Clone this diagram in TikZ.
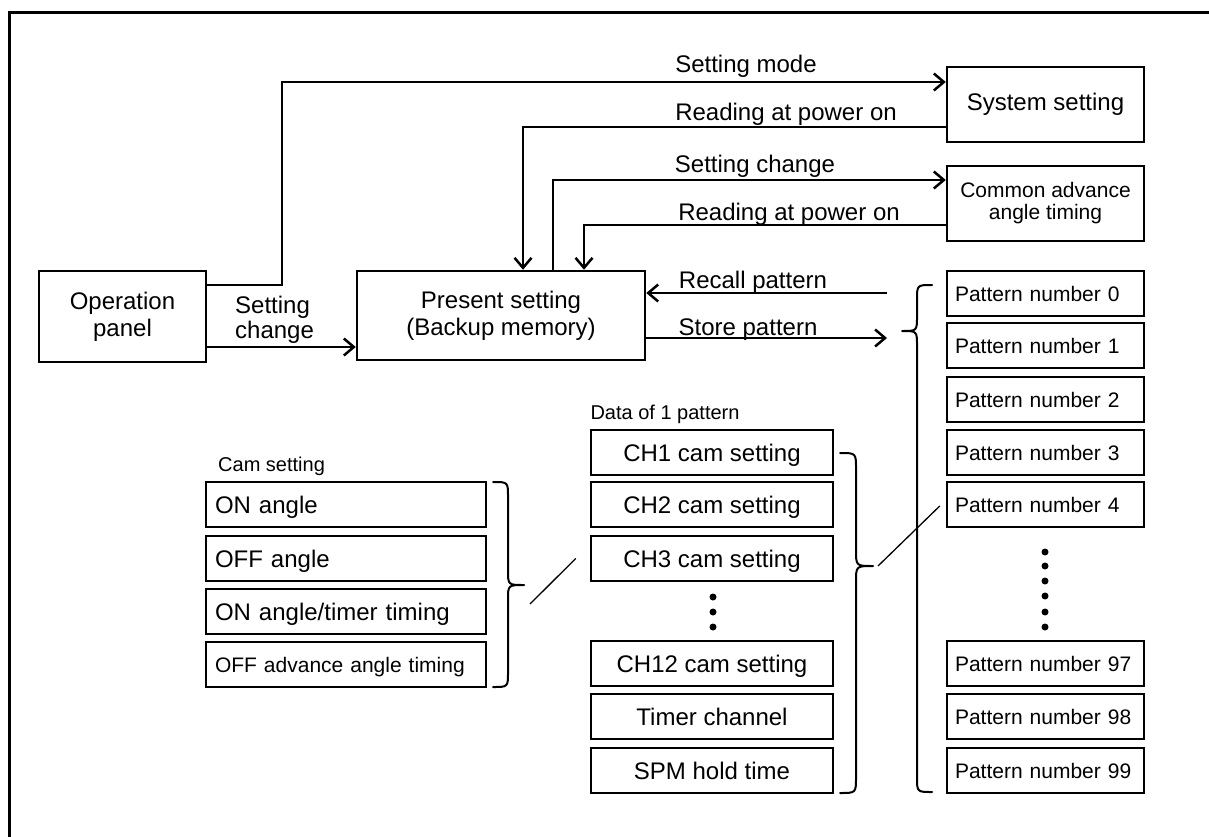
\documentclass[tikz,border=0pt]{standalone}
\usepackage{fontspec}
\setmainfont{Liberation Sans}
\usetikzlibrary{arrows.meta}
\begin{document}
\begin{tikzpicture}[x=1pt,y=-1pt,
  box/.style={draw,line width=2.5pt,inner sep=0pt,align=center},
  big/.style={font=\fontsize{24}{27}\selectfont},
  lbl/.style={inner sep=0pt,anchor=base,font=\fontsize{24}{27}\selectfont},
  arr/.style={line width=2.5pt,-{Straight Barb[length=10pt,width=17pt]}},
  pat/.style={box,minimum width=197pt,minimum height=45pt,text width=181pt,inner xsep=8pt,align=left,font=\fontsize{21}{24}\selectfont,text height=15pt,text depth=0pt},
  chb/.style={box,minimum width=242pt,minimum height=45pt,font=\fontsize{24}{27}\selectfont,text height=17pt,text depth=0pt},
  camb/.style={box,minimum width=280pt,minimum height=45pt,text width=262pt,inner xsep=9pt,align=left,font=\fontsize{24}{27}\selectfont,text height=17pt,text depth=0pt},
  brace/.style={line width=2pt,line cap=round,line join=round},
  thin/.style={line width=1.3pt},
  dot/.style={fill=black}
]
\useasboundingbox (0,0) rectangle (1209,837);
% frame
\draw[line width=3pt] (1209,13) -- (9,13) -- (9,837);

% main boxes
\node[box,big,minimum width=167pt,minimum height=91pt] (op) at (122.5,316.5) {Operation\\panel};
\node[box,big,minimum width=288pt,minimum height=89pt] (pres) at (501,315.5) {Present setting\\(Backup memory)};
\node[box,big,minimum width=197pt,minimum height=75pt] (sys) at (1045.5,104.5) {System setting};
\node[box,font=\fontsize{21}{22}\selectfont,minimum width=197pt,minimum height=75pt] (com) at (1045.5,203.5) {Common advance\\angle timing};

% pattern boxes
\node[pat] (p0) at (1045.5,293.5) {Pattern number 0};
\node[pat] (p1) at (1045.5,345.5) {Pattern number 1};
\node[pat] (p2) at (1045.5,399.5) {Pattern number 2};
\node[pat] (p3) at (1045.5,452.5) {Pattern number 3};
\node[pat] (p4) at (1045.5,504.5) {Pattern number 4};
\node[pat] (p97) at (1045.5,663.5) {Pattern number 97};
\node[pat] (p98) at (1045.5,716.5) {Pattern number 98};
\node[pat] (p99) at (1045.5,770.5) {Pattern number 99};
\foreach \yy in {552,566,581,596,612,627} \fill[dot] (1045,\yy) circle (3.5pt);

% channel boxes
\node[font=\fontsize{20}{24}\selectfont] (dlab) at (665,414) {Data of 1 pattern};
\node[chb] (ch1) at (712,452.5) {CH1 cam setting};
\node[chb] (ch2) at (712,504.5) {CH2 cam setting};
\node[chb] (ch3) at (712,558.5) {CH3 cam setting};
\node[chb] (ch12) at (712,663.5) {CH12 cam setting};
\node[chb] (tch) at (712,716.5) {Timer channel};
\node[chb] (spm) at (712,770.5) {SPM hold time};
\foreach \yy in {597,612,627} \fill[dot] (713,\yy) circle (3.5pt);

% cam boxes
\node[font=\fontsize{20}{24}\selectfont,anchor=west,inner sep=0pt] (clab) at (218,466) {Cam setting};
\node[camb] (c1) at (346,504.5) {ON angle};
\node[camb] (c2) at (346,558.5) {OFF angle};
\node[camb] (c3) at (346,611.5) {ON angle/timer timing};
\node[camb,font=\fontsize{21}{24}\selectfont,text height=15pt] (c4) at (346,664.5) {OFF advance angle timing};

% arrows
\draw[arr] ([yshift=31.5pt]op.east) -| (282,82) -- ([yshift=22.5pt]sys.west);
\node[lbl] (l1) at (746,73) {Setting mode};
\draw[arr] ([yshift=-22.5pt]sys.west) -| ([xshift=22pt]pres.north);
\node[lbl] (l2) at (786,121) {Reading at power on};
\draw[arr] ([xshift=52pt]pres.north) |- ([yshift=23.5pt]com.west);
\node[lbl] (l3) at (755,173) {Setting change};
\draw[arr] ([yshift=-21.5pt]com.west) -| ([xshift=83pt]pres.north);
\node[lbl] (l4) at (789,220) {Reading at power on};
\coordinate (rcs) at (887,293);
\coordinate (ste) at (887,338);
\draw[arr] (rcs) -- ([yshift=22.5pt]pres.east);
\node[lbl] (l5) at (753,288) {Recall pattern};
\draw[arr] ([yshift=-22.5pt]pres.east) -- (ste);
\node[lbl] (l6) at (748,335) {Store pattern};
\draw[arr] ([yshift=-30.5pt]op.east) -- ([yshift=-31.5pt]pres.west);
\node[lbl,anchor=base west] (l7) at (235,313) {Setting};
\node[lbl,anchor=base west] (l8) at (235,338) {change};

% braces
\coordinate (ptip) at (902,331);
\draw[brace] (932,285) .. controls (917,285) .. (917,300) -- (917,316)
  .. controls (917,331) .. (ptip) .. controls (917,331) .. (917,346)
  -- (917,777) .. controls (917,792) .. (932,792);
\coordinate (chtip) at (873,566);
\draw[brace] (840,453) .. controls (856,453) .. (856,469) -- (856,550)
  .. controls (856,566) .. (chtip) .. controls (856,566) .. (856,582)
  -- (856,777) .. controls (856,793) .. (840,793);
\coordinate (camtip) at (524,585);
\draw[brace] (493,482) .. controls (508,482) .. (508,497) -- (508,570)
  .. controls (508,585) .. (camtip) .. controls (508,585) .. (508,600)
  -- (508,672) .. controls (508,687) .. (493,687);

% diagonal connectors
\coordinate (d1e) at (878,566);
\draw[thin] ([xshift=-6pt,yshift=-1.5pt]p4.west) -- (d1e);
\coordinate (d2e) at (530,604);
\draw[thin] ([xshift=-14pt]ch3.west) -- (d2e);
\end{tikzpicture}
\end{document}
